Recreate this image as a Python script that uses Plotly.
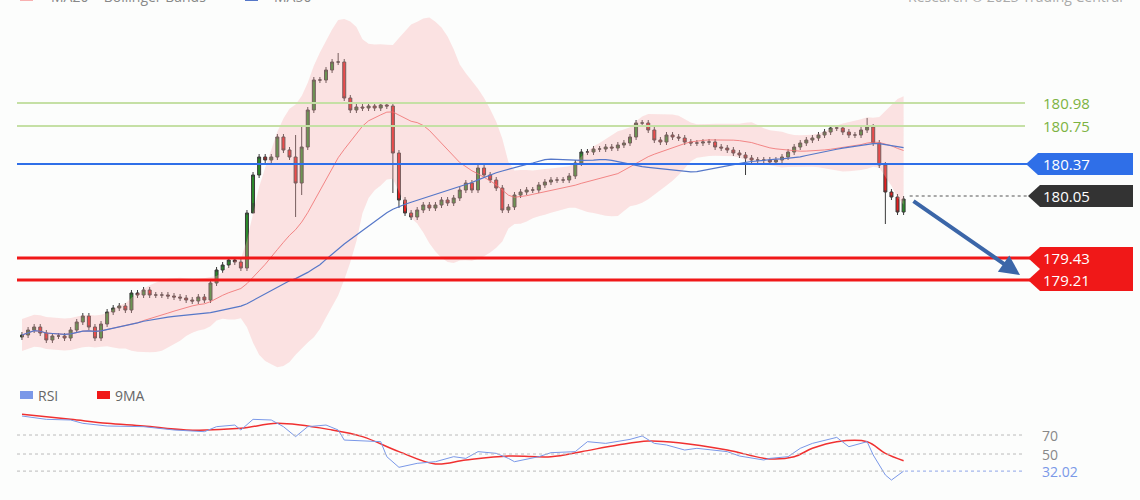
import plotly.graph_objects as go
import pandas as pd
import numpy as np

closes = [
 178.66,178.71,178.74,178.68,178.61,178.65,178.65,178.63,178.71,178.79,178.85,178.74,178.63,178.77,178.89,178.93,178.95,
 178.91,179.08,179.06,179.11,179.06,179.06,179.06,179.05,179.04,179.03,179.01,179.00,179.04,179.01,
 179.18,179.31,179.36,179.41,179.39,179.33,179.88,180.26,180.44,180.41,180.44,180.64,180.51,180.44,180.18,180.54,
 180.91,181.21,181.21,181.31,181.39,181.39,181.03,180.91,180.94,180.93,180.95,180.93,180.96,180.95,
 180.48,180.01,179.88,179.84,179.91,179.96,179.93,179.96,180.01,
 179.98,180.03,180.11,180.18,180.11,180.33,180.26,180.21,180.13,179.91,179.94,180.06,180.09,180.11,180.11,180.16,
 180.19,180.21,180.21,180.21,180.25,180.38,180.49,180.49,180.52,180.52,180.54,180.53,180.56,180.58,180.64,180.78,
 180.78,180.71,180.61,180.59,180.66,180.64,180.63,180.59,180.58,180.58,180.59,180.59,180.54,180.53,180.51,180.48,
 180.46,180.43,180.41,180.41,180.41,180.39,180.41,180.44,180.49,180.54,180.58,180.61,180.63,180.66,180.69,180.73,
 180.73,180.69,180.66,180.66,180.71,180.74,180.58,180.36,180.09,180.04,179.89,180.02]
first_open = 178.64
long_lows = {45: 179.84, 46: 180.06, 61: 180.08, 62: 179.93, 119: 180.26, 142: 179.77, 38: 179.98}
long_highs = {139: 180.83, 46: 180.74, 52: 181.48, 45: 180.66}

levels_res = [180.98, 180.75]
level_pivot = 180.37
level_sup = [179.43, 179.21]
last_price = 180.05

rsi_idx = [0,4,8,10,14,20,25,30,32,35,36,38,41,43,45,47,50,52,53,59,60,62,65,68,71,73,75,78,80,81,85,87,91,93,96,98,100,102,104,106,109,111,116,118,122,123,126,128,130,134,136,139,140,142,143,145]
rsi_val = [90.0,86.5,85.8,82.3,79.5,78.8,75.3,73.5,78.8,80.5,75.3,86.5,85.8,78.8,68.3,78.8,80.5,75.3,64.7,63.0,47.2,36.0,40.2,41.9,47.2,45.4,52.5,50.7,45.4,41.9,47.2,51.4,52.5,63.0,61.2,63.0,65.4,69.0,61.2,59.5,54.2,56.0,52.5,47.9,43.7,45.4,47.2,56.0,61.2,67.5,57.7,63.0,49.0,27.9,22.6,32.02]
ma9_idx = [0,8,14,20,27,36,42,51,56,62,68,73,80,87,92,98,103,108,116,123,127,130,134,139,142,145]
ma9_val = [91.8,86.5,82.3,79.5,75.3,77.0,82.3,75.3,68.3,52.5,39.5,43.7,47.9,47.2,52.5,59.5,63.7,61.9,54.2,44.8,47.2,56.0,63.0,63.0,50.7,43.0]

n = len(closes)
idx = list(range(n))
opens = [first_open] + closes[:-1]
highs = [long_highs.get(i, max(o, c) + 0.03) for i, (o, c) in enumerate(zip(opens, closes))]
lows = [long_lows.get(i, min(o, c) - 0.03) for i, (o, c) in enumerate(zip(opens, closes))]

s = pd.Series(closes)
ma20 = s.rolling(20, min_periods=1).mean()
sd20 = s.rolling(20, min_periods=2).std().fillna(0.05).clip(lower=0.08)
ub = ma20 + 2 * sd20
lb = ma20 - 2 * sd20
ma50 = s.rolling(50, min_periods=1).mean()

W, H = 1140, 500
sp = 6.08
x0 = 22
xr = [-x0 / sp, (W - x0) / sp]
def px(x):
    return x / W

fig = go.Figure()
fig.add_trace(go.Scatter(x=idx, y=ub, mode='lines', line=dict(width=0), hoverinfo='skip', showlegend=False))
fig.add_trace(go.Scatter(x=idx, y=lb, mode='lines', line=dict(width=0), fill='tonexty',
                         fillcolor='rgba(250,170,170,0.32)', hoverinfo='skip', showlegend=False))
fig.add_trace(go.Scatter(x=idx, y=ma20, mode='lines', line=dict(color='rgba(240,110,110,0.8)', width=1), showlegend=False))
fig.add_trace(go.Scatter(x=idx, y=ma50, mode='lines', line=dict(color='#5577c8', width=1.2), showlegend=False))

for lv in levels_res:
    fig.add_shape(type='line', xref='paper', yref='y', x0=px(17), x1=px(1025), y0=lv, y1=lv,
                  line=dict(color='#c5e0a5', width=2))
fig.add_shape(type='line', xref='paper', yref='y', x0=px(17), x1=px(1028), y0=level_pivot, y1=level_pivot,
              line=dict(color='#2f6fe8', width=1.8))
for lv in level_sup:
    fig.add_shape(type='line', xref='paper', yref='y', x0=px(17), x1=px(1030), y0=lv, y1=lv,
                  line=dict(color='#f01818', width=3))
fig.add_shape(type='line', xref='x', yref='y', x0=idx[-1] + 1, x1=(1028 - x0) / sp, y0=last_price, y1=last_price,
              line=dict(color='#555', width=1, dash='dot'))

fig.add_trace(go.Candlestick(x=idx, open=opens, high=highs, low=lows, close=closes,
                             increasing=dict(fillcolor='#2a8a2a', line=dict(color='#3a3a3a', width=1)),
                             decreasing=dict(fillcolor='#e52020', line=dict(color='#3a3a3a', width=1)),
                             whiskerwidth=0, showlegend=False, hoverinfo='skip'))

def tag(level, color, xs=1026):
    a, b, c = px(xs), px(xs + 12), px(1133)
    h = 0.11
    fig.add_shape(type='path', xref='paper', yref='y',
                  path=f'M {a},{level} L {b},{level+h} L {c},{level+h} L {c},{level-h} L {b},{level-h} Z',
                  fillcolor=color, line=dict(width=0))
    fig.add_annotation(xref='paper', yref='y', x=px(1041), y=level, text=f'{level:.2f}', showarrow=False,
                       xanchor='left', yanchor='middle', font=dict(color='white', size=15, family='Open Sans'))
tag(level_pivot, '#2f6fe8')
tag(last_price, '#333333', 1028)
for lv in level_sup:
    tag(lv, '#f01818', 1028)
for lv in levels_res:
    fig.add_annotation(xref='paper', yref='y', x=px(1041), y=lv, text=f'{lv:.2f}', showarrow=False,
                       xanchor='left', yanchor='middle', font=dict(color='#7cb342', size=15, family='Open Sans'))

fig.add_annotation(x=(1020 - x0) / sp, y=179.26, ax=(912 - x0) / sp, ay=180.01, xref='x', yref='y',
                   axref='x', ayref='y', showarrow=True, arrowhead=2, arrowsize=1, arrowwidth=4,
                   arrowcolor='#3b66a8', text='')

for r in (70, 50):
    fig.add_shape(type='line', xref='paper', yref='y2', x0=px(17), x1=px(1025), y0=r, y1=r,
                  line=dict(color='#bbbbbb', width=1, dash='dot'))
fig.add_shape(type='line', xref='paper', yref='y2', x0=px(17), x1=px(905), y0=32.02, y1=32.02,
              line=dict(color='#bbbbbb', width=1, dash='dot'))
fig.add_shape(type='line', xref='paper', yref='y2', x0=px(905), x1=px(1025), y0=32.02, y1=32.02,
              line=dict(color='#8ea4e8', width=1, dash='dot'))
fig.add_trace(go.Scatter(x=ma9_idx, y=ma9_val, yaxis='y2', mode='lines', line=dict(color='#f03030', width=1.5, shape='spline'), showlegend=False))
fig.add_trace(go.Scatter(x=rsi_idx, y=rsi_val, yaxis='y2', mode='lines', line=dict(color='#7a98e8', width=1), showlegend=False))
for r, txt, col in [(70, '70', '#888'), (50, '50', '#888'), (32.02, '32.02', '#7a98e8')]:
    fig.add_annotation(xref='paper', yref='y2', x=px(1040), y=r, text=txt, showarrow=False, xanchor='left',
                       yanchor='middle', font=dict(color=col, size=14, family='Open Sans'))

def sw(x, y, col):
    fig.add_shape(type='rect', xref='paper', yref='paper', x0=px(x), x1=px(x + 13), y0=1 - (y + 4) / H, y1=1 - (y - 4) / H,
                  fillcolor=col, line=dict(width=0))
def tx(x, y, t, col='#888', anchor='left'):
    fig.add_annotation(xref='paper', yref='paper', x=px(x), y=1 - y / H, text=t, showarrow=False, xanchor=anchor,
                       yanchor='middle', font=dict(color=col, size=14, family='Open Sans'))
sw(20, -3, '#f8b0b0'); tx(49, -3, 'MA20 + Bollinger Bands')
sw(245, -3, '#5577c8'); tx(272, -3, 'MA50')
tx(1125, -3, 'Research © 2023 Trading Central', '#aaa', 'right')
sw(20, 395, '#7a98e8'); tx(36, 395, 'RSI', '#666')
sw(97, 395, '#f01818'); tx(113, 395, '9MA', '#666')

fig.update_layout(width=W, height=H, margin=dict(l=0, r=0, t=0, b=0),
                  paper_bgcolor='#fcfdfc', plot_bgcolor='#fcfdfc', showlegend=False,
                  xaxis=dict(range=xr, visible=False, rangeslider=dict(visible=False), fixedrange=True),
                  yaxis=dict(range=[177.01, 182.01], visible=False, domain=[0, 1]),
                  yaxis2=dict(range=[1.6, 527.9], visible=False, overlaying='y'))
fig.write_html('out.html', config={'displayModeBar': False},
               post_script="document.body.style.margin='0';document.body.style.background='#fcfdfc';")
